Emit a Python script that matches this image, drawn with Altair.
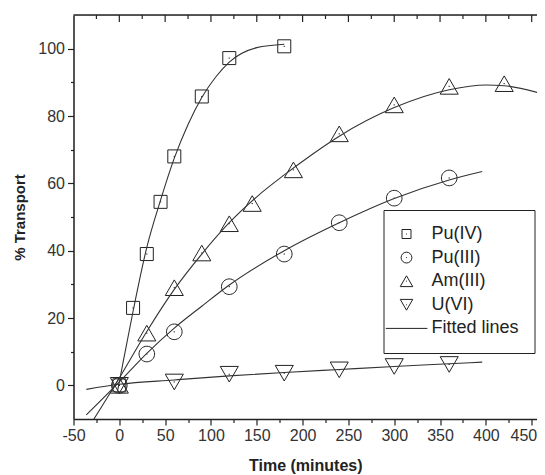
import altair as alt
import pandas as pd

# ---------------- data ----------------
series_names = ["Pu(IV)", "Pu(III)", "Am(III)", "U(VI)"]
fit_name = "Fitted lines"

pu4_t = [0, 15, 30, 45, 60, 90, 120, 180]
pu4_y = [0, 23, 39, 54.5, 68, 85.8, 97.2, 100.7]

pu3_t = [0, 30, 60, 120, 180, 240, 300, 360]
pu3_y = [0, 9.3, 15.9, 29.3, 39, 48.3, 55.6, 61.6]

am3_t = [0, 30, 60, 90, 120, 145, 190, 240, 300, 360, 420]
am3_y = [0, 15.5, 29, 39.3, 48, 54, 64, 74.7, 83.3, 88.8, 89.6]

u6_t = [0, 60, 120, 180, 240, 300, 360]
u6_y = [0, 1, 3.3, 3.6, 4.6, 5.6, 6.2]

# fitted curves, points
pu4_fit_t = [-2, 0, 15, 30, 45, 60, 75, 90, 105, 120, 150, 180]
pu4_fit_y = [-1.8, 1, 22, 41, 55, 67.5, 77.5, 85.5, 91.5, 96, 100.3, 101.3]

pu3_fit_t = [-36, 0, 30, 60, 90, 120, 180, 240, 300, 360, 396]
pu3_fit_y = [-8.8, 1, 9.5, 17, 23.5, 29.8, 40, 48.3, 55.5, 61, 63.5]

am3_fit_t = [-30, 0, 30, 60, 90, 120, 150, 180, 210, 240, 300, 360, 400, 420, 465]
am3_fit_y = [-11, 2.2, 16, 28.5, 39, 48.3, 56, 62.5, 68.5, 74, 82.5, 87.8, 89.2, 89, 86.3]

u6_fit_t = [-36, 0, 60, 120, 180, 240, 300, 360, 396]
u6_fit_y = [-1.2, 0.3, 1.6, 2.8, 3.8, 4.7, 5.6, 6.4, 6.9]

x_ticks = list(range(-50, 451, 25))
top_major_ticks = list(range(0, 451, 50))
top_minor_ticks = list(range(-25, 451, 50))
y_ticks = list(range(0, 101, 10))

# ---------------- tables ----------------
pts_rows = []
for name, ts, ys in zip(series_names, [pu4_t, pu3_t, am3_t, u6_t], [pu4_y, pu3_y, am3_y, u6_y]):
    for t, y in zip(ts, ys):
        pts_rows.append({"series": name, "t": t, "y": y})
pts = pd.DataFrame(pts_rows)

fit_rows = []
for name, ts, ys in zip(series_names, [pu4_fit_t, pu3_fit_t, am3_fit_t, u6_fit_t],
                        [pu4_fit_y, pu3_fit_y, am3_fit_y, u6_fit_y]):
    for i, (t, y) in enumerate(zip(ts, ys)):
        fit_rows.append({"series": name, "t": t, "y": y, "i": i})
fits = pd.DataFrame(fit_rows)

# ---------------- symbols ----------------
DOT = " M-0.1,0H0.1"
SQ = "M-1,-1H1V1H-1Z" + DOT
CI = "M-1.2,0A1.2,1.2,0,1,1,1.2,0A1.2,1.2,0,1,1,-1.2,0Z" + DOT
TU = "M0,-1.2L1.39,1.2L-1.39,1.2Z" + DOT
TD = "M0,1.2L1.39,-1.2L-1.39,-1.2Z" + DOT
LN = "M-4.6,0H4.65"

INK = "#222222"
FONT = "Liberation Sans"
PLOT_W = 463.5
PLOT_H = 404

xscale = alt.Scale(domain=[-50, 455.8], nice=False, zero=False)
yscale = alt.Scale(domain=[-10, 110], nice=False, zero=False)

x_axis_bottom = alt.Axis(
    values=x_ticks,
    labelExpr="datum.value % 50 === 0 ? '' + datum.value : ''",
    tickSize={"condition": {"test": "datum.value % 50 === 0", "value": 6}, "value": 3.5},
    labelAlign={"condition": {"test": "datum.value === 450", "value": "right"}, "value": "center"},
    labelOffset={"condition": {"test": "datum.value === 450", "value": 5}, "value": 0},
    grid=False, title="Time (minutes)", titleFontSize=16, titleFontWeight="bold",
    titleFont=FONT, titleColor=INK, titlePadding=14,
    labelFont=FONT, labelFontSize=16, labelColor="#333333", labelPadding=2,
    domainColor=INK, domainWidth=1.5, tickColor=INK, tickWidth=1.2, labelFlush=False,
    labelOverlap=False,
)
y_axis = alt.Axis(
    values=y_ticks,
    labelExpr="datum.value % 20 === 0 ? '' + datum.value : ''",
    tickSize={"condition": {"test": "datum.value % 20 === 0", "value": 6}, "value": 3},
    grid=False, title="% Transport", titleFontSize=15, titleFontWeight="bold",
    titleFont=FONT, titleColor=INK, titlePadding=10,
    labelFont=FONT, labelFontSize=16, labelColor="#333333", labelPadding=3,
    domainColor=INK, domainWidth=1.5, tickColor=INK, tickWidth=1.2,
)

legend = alt.Legend(
    title=None, orient="none", legendX=310, legendY=195,
    strokeColor=INK, padding=15, fillColor="white",
    labelFont=FONT, labelFontSize=18, labelColor=INK, labelOffset=16,
    symbolSize=81, symbolStrokeWidth=1, symbolStrokeColor=INK,
    symbolFillColor="transparent", symbolOffset=-1, rowPadding=5.6,
)

X = alt.X("t:Q", scale=xscale, axis=x_axis_bottom)
Y = alt.Y("y:Q", scale=yscale, axis=y_axis)

points = alt.Chart(pts).mark_point(
    filled=False, color=INK, strokeWidth=1, size=169, opacity=1
).encode(
    x=X, y=Y,
    shape=alt.Shape(
        "series:N",
        scale=alt.Scale(domain=series_names + [fit_name], range=[SQ, CI, TU, TD, LN]),
        legend=legend,
    ),
)

lines = alt.Chart(fits).mark_line(
    color="#333333", strokeWidth=1.1, interpolate="monotone", clip=True
).encode(x=X, y=Y, detail="series:N", order="i:Q")

# top frame line with inward ticks
top_frame = alt.Chart(pd.DataFrame({"k": [0]})).mark_rule(
    color=INK, strokeWidth=1.5
).encode(x=alt.value(0), x2=alt.value(PLOT_W), y=alt.value(0))

top_major = alt.Chart(pd.DataFrame({"t": top_major_ticks})).mark_rule(
    color=INK, strokeWidth=1.2
).encode(x=X, y=alt.value(0), y2=alt.value(7))

top_minor = alt.Chart(pd.DataFrame({"t": top_minor_ticks})).mark_rule(
    color=INK, strokeWidth=1.2
).encode(x=X, y=alt.value(0), y2=alt.value(4))

chart = alt.layer(points, lines, top_frame, top_major, top_minor).properties(
    width=PLOT_W, height=PLOT_H,
    padding={"left": 65.5, "top": 7, "right": 0, "bottom": 56},
    autosize=alt.AutoSizeParams(type="none"),
).configure_view(stroke=None).configure(background="white")

chart.save("out.html", embed_options={"renderer": "svg", "actions": False})
